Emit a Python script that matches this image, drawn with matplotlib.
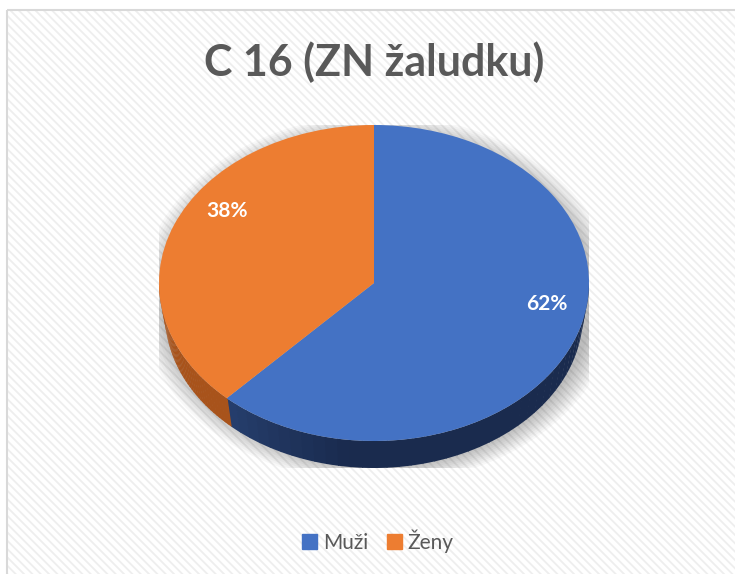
import numpy as np
import matplotlib
matplotlib.use('Agg')
import matplotlib.pyplot as plt
from matplotlib.patches import Rectangle, Polygon, Ellipse

# data
labels = ['Muži', 'Ženy']
values = [62, 38]
colors = ['#4472C4', '#ED7D31']
side_colors = [('#2e4d85', '#1a2b4e'), ('#b35a1f', '#9c4b17')]
title = 'C 16 (ZN žaludku)'

plt.rcParams['font.family'] = ['Lato', 'DejaVu Sans']
plt.rcParams['hatch.linewidth'] = 1.3
plt.rcParams['hatch.color'] = '#eeeeee'

W, H = 735, 574
fig = plt.figure(figsize=(W / 100, H / 100), dpi=100)

# background with frame and diagonal pattern
bg = fig.add_axes([0, 0, 1, 1])
bg.set_xlim(0, W)
bg.set_ylim(H, 0)
bg.axis('off')
bg.add_patch(Rectangle((7, 10), W + 10, H + 10, facecolor='white',
                       edgecolor='#eeeeee', hatch='\\\\\\\\', lw=0))
bg.add_patch(Rectangle((7, 10), W + 10, H + 10, facecolor='none',
                       edgecolor='#d9d9d9', lw=1.5))

# pie geometry (pixels)
cx, cy, rx, ry, depth = 374, 283, 215, 158, 27
d = depth / ry
top_px = cy - ry
bot_px = cy + ry + depth
ax = fig.add_axes([(cx - rx) / W, (H - bot_px) / H, 2 * rx / W, (bot_px - top_px) / H])

wedges, _ = ax.pie(values, colors=colors, startangle=90, counterclock=False,
                   wedgeprops=dict(linewidth=0), radius=1)
ax.set_aspect('auto')
ax.set_xlim(-1, 1)
ax.set_ylim(-1 - d, 1)
ax.axis('off')

# soft shadow
for i in range(10):
    s = 1 + i * 0.012
    ax.add_patch(Ellipse((0.02, -d * 0.6), 2 * s, 2 * s + d * 0.7, facecolor='#000000',
                         alpha=0.028, lw=0, zorder=0))

# bottom face slightly smaller (perspective)
sb = 0.972
dy = 1 + d - sb

# side walls (front half only)
fracs = np.array(values) / sum(values)
start = 90.0
for k, f in enumerate(fracs):
    a1 = start - f * 360
    a2 = start
    start = a1
    lo, hi = max(a1, -180), min(a2, 0)
    if lo >= hi:
        continue
    n = 40
    edges = np.linspace(lo, hi, n + 1)
    c0 = np.array(matplotlib.colors.to_rgb(side_colors[k][0]))
    c1 = np.array(matplotlib.colors.to_rgb(side_colors[k][1]))
    for j in range(n):
        t = np.radians(np.linspace(edges[j], edges[j + 1] + 0.3, 5))
        xs = np.cos(t)
        ys = np.sin(t)
        pts = np.concatenate([np.column_stack([xs, ys]),
                              np.column_stack([sb * xs[::-1], sb * ys[::-1] - dy])])
        frac_pos = (edges[j] - (-180)) / 180
        w = min(1, max(0, (frac_pos - 0.1) / 0.35)) if k == 0 else 0.5
        col = c0 * (1 - w) + c1 * w
        ax.add_patch(Polygon(pts, closed=True, facecolor=col, lw=0, zorder=1))

for w_ in wedges:
    w_.set_zorder(3)

# percentage labels
start = 90.0
for k, f in enumerate(fracs):
    mid = np.radians(start - f * 180)
    start -= f * 360
    ax.text(0.8 * np.cos(mid) + 0.06, 0.8 * np.sin(mid) + 0.16, f'{values[k]}%',
            ha='center', va='center', color='white', fontsize=15,
            fontweight='bold', zorder=5)

fig.text(374 / W, 1 - 62 / H, title, ha='center', va='center', fontsize=31,
         fontweight='bold', color='#595959')

# legend
leg_y = 1 - 541 / H
fig.legend(handles=[Rectangle((0, 0), 1, 1, color=c) for c in colors], labels=labels,
           loc='center', bbox_to_anchor=(378 / W, leg_y), ncol=2, frameon=False,
           fontsize=15, handlelength=0.7, handleheight=0.7, handletextpad=0.3,
           columnspacing=0.9, labelcolor='#595959')

fig.savefig('out.png', dpi=100)
